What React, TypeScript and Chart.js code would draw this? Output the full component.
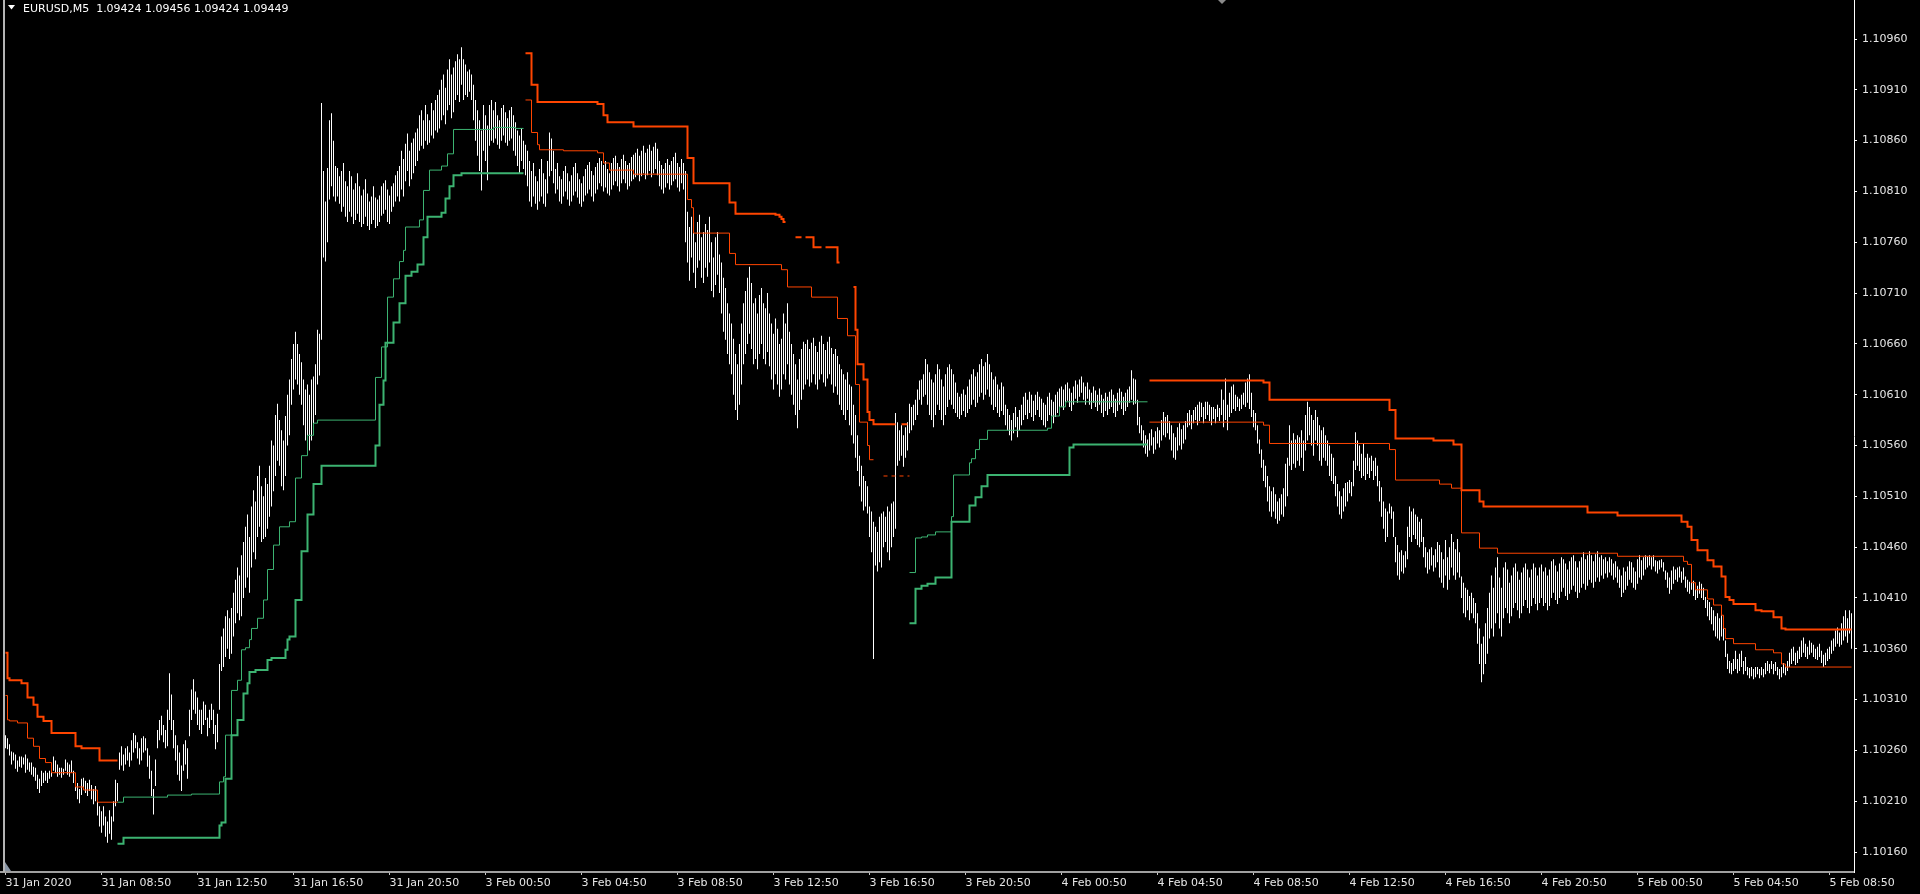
import React, { useEffect, useRef } from "react";
import { Chart, registerables } from "chart.js";

Chart.register(...registerables);

// ---- text ----
const headerText = "EURUSD,M5  1.09424 1.09456 1.09424 1.09449";
const timeLabels = [
  "31 Jan 2020", "31 Jan 08:50", "31 Jan 12:50", "31 Jan 16:50", "31 Jan 20:50",
  "3 Feb 00:50", "3 Feb 04:50", "3 Feb 08:50", "3 Feb 12:50", "3 Feb 16:50", "3 Feb 20:50",
  "4 Feb 00:50", "4 Feb 04:50", "4 Feb 08:50", "4 Feb 12:50", "4 Feb 16:50", "4 Feb 20:50",
  "5 Feb 00:50", "5 Feb 04:50", "5 Feb 08:50",
];
const timeTickBars = [0, 48, 96, 144, 192, 240, 288, 336, 384, 432, 480, 528, 576, 624, 672, 720, 768, 816, 864, 912];
const priceTicks = [
  1.1016, 1.1021, 1.1026, 1.1031, 1.1036, 1.1041, 1.1046, 1.1051, 1.1056,
  1.1061, 1.1066, 1.1071, 1.1076, 1.1081, 1.1086, 1.1091, 1.1096,
];
const priceMin = 1.1014032;
const priceMax = 1.1099838;

// ---- price bars (M5), [low, high] in points above 1.10000 ----
const BASE = 1.1;
const POINT = 0.00001;

const jan31 = [
  [262,275],[261,272],[255,266],[246,259],[250,258],[242,256],[239,250],[244,254],[243,254],[246,253],[238,256],[241,252],
  [239,248],[236,248],[234,244],[230,243],[222,236],[218,232],[225,240],[228,238],[230,240],[228,238],[232,240],[234,246],
  [240,254],[238,250],[234,246],[236,243],[233,243],[236,242],[240,251],[236,248],[234,246],[238,250],[228,240],[220,234],
  [212,228],[208,222],[216,232],[222,233],[218,230],[215,228],[220,231],[212,226],[207,222],[210,225],[196,215],[185,205],
  [179,200],[186,205],[175,195],[169,190],[178,201],[172,195],[190,210],[205,231],[210,228],[241,258],[245,264],[240,256],
  [246,262],[250,264],[244,258],[250,270],[258,277],[262,275],[252,268],[246,262],[250,272],[258,274],[260,272],[244,262],
  [232,255],[215,240],[197,222],[225,251],[262,280],[270,290],[275,294],[268,285],[262,280],[264,300],[290,336],[280,315],
  [262,290],[250,275],[236,265],[230,258],[220,245],[240,266],[246,270],[232,262],[274,300],[290,320],[300,330],[296,318],
  [285,312],[280,300],[276,300],[285,308],[290,305],[274,292],[282,300],[290,306],[276,300],[261,285],[268,296],[300,345],
  [338,372],[342,380],[352,392],[360,398],[350,390],[355,400],[372,415],[385,428],[395,440],[388,432],[392,452],[410,465],
  [420,480],[430,492],[415,470],[440,500],[455,516],[448,505],[470,530],[480,540],[465,520],[468,510],[470,528],[478,522],
  [490,540],[500,565],[515,560],[530,590],[545,601],[540,585],[520,575],[516,565],[530,589],[560,610],[570,625],[600,645],
  [615,660],[625,672],[620,660],[610,650],[600,642],[580,625],[565,615],[560,620],[555,610],[565,625],[575,628],[590,640],
  [620,674],[629,670],[664,897],[745,830],[741,800],[760,833],[802,880],[815,887],[805,860],[800,835],[805,833],[798,825],
  [790,830],[795,838],[785,820],[780,815],[790,830],[785,825],[778,812],[782,818],[788,828],[780,815],[775,806],[778,812],
  [785,822],[776,808],[772,800],[778,805],[782,815],[774,804],[776,802],[780,806],[786,815],[788,818],[792,821],[780,812],
  [778,806],[790,815],[795,818],[800,826],[805,830],[800,835],[812,850],[805,842],[820,857],[830,867],[815,850],[822,858],
  [828,862],[835,868],[840,872],[850,885],[855,890],[852,880],[860,895],[856,886],[858,880],[865,897],[862,890],[870,900],
  [868,905],[872,910],[880,920],[885,925],[876,912],[890,930],[895,940],[882,925],[888,932],[900,938],[905,945],[898,940],
  [915,952],[900,940],
];

const feb3 = [
  [905,935],[903,928],[908,930],[900,925],[880,915],[860,900],[845,890],[830,880],[811,870],[850,895],[840,885],[821,875],
  [855,895],[860,900],[858,890],[862,898],[856,885],[852,880],[860,892],[865,895],[858,888],[855,882],[860,890],[862,893],
  [850,885],[845,878],[835,870],[828,865],[840,872],[832,860],[826,856],[815,850],[800,840],[795,830],[805,838],[798,825],
  [792,820],[800,832],[805,842],[798,828],[795,822],[808,840],[825,868],[830,862],[818,850],[808,832],[812,838],[800,825],
  [798,822],[805,830],[810,835],[802,828],[796,820],[800,826],[806,834],[810,838],[804,828],[798,822],[795,818],[800,825],
  [806,832],[808,836],[812,839],[805,830],[800,826],[808,834],[812,838],[818,843],[815,840],[810,836],[814,840],[808,832],
  [806,828],[812,838],[816,843],[820,845],[815,838],[810,834],[818,842],[822,846],[818,840],[812,836],[815,838],[820,844],
  [822,846],[824,848],[826,852],[820,845],[825,850],[828,855],[822,848],[826,852],[830,856],[824,850],[828,854],[832,858],
  [826,852],[815,840],[812,836],[808,832],[814,838],[818,842],[812,836],[816,840],[820,844],[822,848],[814,838],[810,834],
  [818,842],[812,838],[760,830],[740,790],[722,775],[745,785],[730,770],[715,760],[735,780],[742,787],[725,765],[720,770],
  [735,778],[726,772],[740,785],[712,760],[706,745],[718,765],[728,770],[710,748],[690,740],[672,725],[664,715],[650,700],
  [640,690],[630,680],[610,665],[595,650],[585,640],[600,660],[620,680],[640,700],[650,712],[660,725],[670,736],[655,720],
  [640,700],[645,705],[635,690],[650,708],[660,715],[645,700],[640,695],[652,710],[638,690],[625,680],[615,670],[630,685],
  [620,675],[608,660],[615,665],[630,690],[625,680],[640,700],[620,672],[610,660],[600,650],[590,640],[577,625],[595,645],
  [605,655],[615,662],[620,660],[625,664],[618,655],[622,661],[630,666],[620,658],[615,652],[625,662],[630,668],[622,660],
  [618,654],[626,662],[630,667],[620,656],[612,650],[618,655],[610,648],[600,640],[595,635],[590,630],[585,625],[595,632],
  [580,620],[570,618],[562,600],[548,590],[535,570],[520,550],[505,540],[496,530],[500,525],[493,520],[470,500],[455,495],
  [350,485],[442,480],[436,475],[445,490],[440,493],[460,495],[465,490],[455,500],[447,495],[460,503],[470,505],[478,592],
  [540,583],[545,575],[550,580],[539,570],[548,578],[555,583],[572,601],[575,598],[580,600],[585,605],[590,615],[605,624],
  [600,625],[608,630],[610,645],[600,640],[590,632],[585,625],[578,622],[590,630],[600,640],[595,635],[585,625],[580,618],
  [590,630],[598,637],[605,640],[600,635],[596,630],[592,622],[588,612],[586,608],[590,611],[594,615],[588,610],[592,618],
  [596,625],[600,630],[605,635],[598,628],[602,632],[608,640],[612,645],[605,638],[610,642],[615,650],[608,640],[600,632],
  [595,625],[598,628],[592,620],[588,615],[594,622],[590,618],[580,600],[575,596],[570,590],[565,585],[572,592],[578,598],
  [568,588],[575,595],[580,600],[585,608],[590,612],[586,605],[592,613],[588,610],[584,604],[590,610],[595,613],[588,608],
];

const feb4 = [
  [585,606],[580,602],[578,600],[584,608],[590,612],[586,605],[582,603],[588,610],[592,613],[595,616],[598,618],[595,615],
  [600,620],[604,622],[598,616],[594,612],[600,618],[606,624],[602,620],[608,625],[612,628],[605,622],[600,618],[606,622],
  [600,615],[596,612],[602,618],[598,614],[594,610],[600,616],[592,610],[588,606],[594,612],[590,608],[596,613],[598,615],
  [592,610],[588,606],[594,612],[600,616],[596,613],[590,608],[594,612],[598,615],[602,618],[605,634],[600,626],[601,625],
  [580,605],[572,588],[565,580],[558,575],[552,570],[549,566],[555,572],[560,576],[552,568],[556,574],[562,578],[558,575],
  [565,585],[570,593],[568,588],[572,590],[566,584],[555,580],[548,572],[546,568],[555,578],[560,582],[556,576],[562,580],
  [566,584],[578,592],[580,595],[576,590],[582,595],[585,598],[580,600],[584,603],[588,602],[582,598],[586,603],[590,603],
  [584,600],[580,598],[586,598],[582,596],[588,600],[584,597],[590,615],[578,605],[585,626],[575,600],[588,612],[592,618],
  [596,620],[594,610],[598,608],[594,606],[596,610],[600,612],[598,622],[602,626],[596,630],[588,612],[578,595],[575,592],
  [562,580],[552,566],[538,556],[525,546],[519,540],[505,530],[495,520],[490,515],[495,519],[488,512],[483,505],[486,508],
  [492,512],[490,518],[500,542],[510,548],[540,580],[536,565],[542,572],[538,566],[545,570],[540,568],[548,575],[535,565],
  [555,590],[565,603],[570,598],[560,590],[550,585],[565,595],[560,588],[545,580],[540,575],[548,578],[545,570],[540,565],
  [530,560],[525,552],[522,548],[510,530],[500,522],[492,515],[488,510],[495,518],[500,523],[505,524],[513,526],[510,524],
  [520,545],[536,573],[540,565],[535,560],[528,552],[530,562],[526,548],[532,552],[528,548],[535,550],[526,545],[530,548],
  [520,540],[505,525],[490,519],[478,505],[465,498],[470,495],[493,503],[488,500],[470,495],[445,470],[432,462],[428,455],
  [436,457],[434,452],[440,456],[448,480],[470,500],[465,495],[472,498],[468,492],[462,490],[460,485],[465,488],[450,470],
  [440,460],[434,455],[438,458],[442,460],[436,452],[440,458],[445,465],[430,462],[425,455],[420,448],[432,467],[418,450],
  [428,460],[440,473],[432,465],[428,458],[435,468],[430,455],[410,431],[395,425],[391,420],[398,418],[388,412],[395,415],
  [390,410],[385,405],[365,395],[345,380],[327,365],[335,372],[345,385],[355,400],[370,415],[380,432],[372,420],[385,440],
  [395,450],[380,430],[372,420],[390,440],[400,445],[395,438],[385,425],[392,432],[400,440],[405,444],[398,436],[390,428],
  [395,435],[402,440],[408,444],[400,438],[395,430],[402,438],[410,444],[404,440],[398,432],[405,440],[410,443],[402,436],
  [405,440],[398,432],[402,438],[410,446],[415,448],[408,442],[404,436],[410,444],[416,450],[420,448],[412,444],[408,438],
  [414,446],[418,450],[422,452],[416,446],[410,440],[415,446],[420,450],[424,455],[418,448],[422,452],[428,456],[425,452],
  [420,446],[426,453],[430,456],[426,450],[432,452],[429,448],[434,450],[430,446],[435,450],[432,448],[428,444],[430,446],
];

const feb5 = [
  [425,441],[420,438],[411,432],[415,440],[418,436],[422,441],[428,446],[425,445],[420,440],[418,436],[424,448],[430,452],
  [428,447],[432,450],[438,452],[440,451],[442,452],[438,450],[441,452],[436,447],[434,446],[438,447],[440,448],[436,445],
  [428,437],[420,435],[414,430],[418,437],[424,441],[428,438],[426,440],[430,441],[425,436],[428,440],[420,431],[416,428],
  [414,426],[418,431],[412,427],[408,424],[410,422],[414,426],[410,424],[408,420],[400,411],[392,408],[388,406],[384,401],
  [378,398],[372,392],[370,395],[368,390],[372,393],[368,388],[352,368],[340,355],[336,348],[335,346],[338,350],[340,358],
  [336,350],[338,355],[342,358],[335,348],[338,352],[334,342],[331,341],[333,342],[330,340],[332,342],[335,342],[331,340],
  [334,342],[332,340],[335,346],[338,348],[336,345],[340,348],[335,345],[338,347],[334,342],[330,340],[332,342],[336,346],
  [334,344],[338,348],[342,356],[345,360],[348,362],[344,356],[346,358],[350,362],[352,368],[356,371],[352,365],[350,362],
  [354,368],[356,366],[352,364],[350,360],[349,362],[352,365],[346,358],[342,354],[344,356],[348,360],[350,362],[355,368],
  [358,370],[362,378],[365,381],[362,376],[364,385],[368,392],[372,398],[366,390],[375,398],[360,395],
];

// ---- indicator levels: [bar index, level in points] (null = not drawn) ----
const downOuter = [
  [0,356],[1,331],[2,329],[8,326],[11,312],[14,305],[16,293],[19,289],[23,277],[35,264],[38,262],[47,250],[56,250],[57,null],
  [260,946],[263,915],[266,898],[296,896],[299,885],[301,878],[314,874],[341,843],[344,818],[362,799],[365,788],[385,787],
  [387,785],[388,783],[389,780],[390,780],[391,null],
  [395,765],[398,765],[399,null],[400,765],[403,765],[404,755],[408,755],[409,null],[410,755],[415,755],[416,740],[417,740],[418,null],
  [424,716],[425,674],[426,640],[429,625],[431,593],[432,585],[434,581],[445,581],[446,null],[448,581],[451,581],[452,null],
  [572,624],[629,622],[632,605],[692,595],[695,567],[714,565],[724,561],[728,516],[737,505],[739,500],[791,494],[806,491],
  [838,485],[841,480],[843,467],[846,457],[851,447],[854,441],[858,431],[860,411],[862,408],[864,404],[875,398],[878,397],
  [884,391],[888,380],[890,379],[923,379],
];
const downInner = [
  [0,314],[1,290],[2,289],[6,287],[11,272],[14,264],[17,252],[20,248],[23,238],[35,224],[39,221],[46,209],[56,209],[57,null],
  [260,900],[263,868],[266,856],[267,851],[279,850],[296,848],[299,838],[302,831],[314,827],[341,802],[343,794],[344,769],
  [362,749],[365,738],[388,733],[391,716],[403,706],[416,685],[421,668],[425,620],[427,583],[431,560],[432,546],[434,546],[435,null],
  [439,530],[441,530],[442,null],[443,530],[445,530],[446,null],[447,530],[449,530],[450,null],[451,530],[452,530],[453,null],
  [572,583],[629,580],[632,562],[692,556],[695,526],[717,522],[723,518],[728,474],[737,459],[746,454],[806,451],[839,446],
  [841,443],[843,425],[845,418],[851,409],[854,403],[858,393],[859,380],[860,370],[864,365],[875,359],[884,356],[888,345],
  [890,342],[923,342],
];
const upOuter = [
  [56,168],[59,174],[107,186],[108,189],[110,232],[113,275],[116,290],[119,316],[121,326],[122,337],[125,339],[131,349],
  [133,351],[140,359],[141,369],[142,372],[145,408],[148,456],[151,492],[154,522],[158,540],[185,560],[187,600],[189,624],
  [190,661],[194,681],[197,700],[200,727],[203,731],[206,738],[209,765],[211,785],[218,789],[220,803],[222,815],[224,826],
  [228,828],[259,828],[260,null],
  [452,385],[455,419],[458,422],[461,424],[465,430],[473,485],[482,501],[485,509],[488,520],[491,531],[530,531],[532,558],
  [534,561],[571,561],[572,null],
];
const upInner = [
  [56,209],[59,214],[81,216],[93,217],[107,229],[109,234],[110,275],[113,319],[116,329],[118,359],[120,361],[122,369],
  [123,380],[126,390],[129,408],[131,438],[134,462],[137,480],[142,485],[145,528],[148,550],[151,570],[154,582],[156,585],
  [185,627],[188,657],[191,706],[194,724],[197,741],[199,752],[200,775],[207,782],[209,811],[212,831],[218,835],[221,847],
  [224,871],[244,873],[255,872],[259,872],[260,null],
  [452,435],[455,469],[458,470],[461,472],[465,475],[473,490],[474,531],[482,543],[483,547],[485,556],[487,566],[491,575],
  [521,577],[523,589],[527,598],[530,603],[571,603],[572,null],
];

const FONT = "DejaVu Sans";
const toPrice = (p: number) => BASE + p * POINT;

const stepLine = (steps: (number | null)[][], color: string, width: number, label: string) => ({
  type: "line" as const,
  label,
  data: steps.map(([x, v]) => ({ x: x as number, y: v === null ? null : toPrice(v as number) })),
  borderColor: color,
  backgroundColor: color,
  borderWidth: width,
  stepped: "before" as const,
  pointRadius: 0,
  pointHoverRadius: 0,
  spanGaps: false,
  fill: false,
  order: 0,
  borderCapStyle: "butt" as const,
  borderJoinStyle: "miter" as const,
});

const terminalChrome = {
  id: "terminalChrome",
  beforeDraw(chart: any) {
    const ctx = chart.ctx;
    ctx.save();
    ctx.fillStyle = "#000000";
    ctx.fillRect(0, 0, chart.width, chart.height);
    ctx.restore();
  },
  afterDraw(chart: any) {
    const ctx = chart.ctx;
    const area = chart.chartArea;
    ctx.save();
    // left frame line
    ctx.fillStyle = "#b4b4b4";
    ctx.fillRect(3, 0, 2, area.bottom);
    // bottom-left shift marker
    ctx.fillStyle = "#8a96a6";
    ctx.beginPath();
    ctx.moveTo(5, 862);
    ctx.lineTo(5, 871);
    ctx.lineTo(11, 871);
    ctx.closePath();
    ctx.fill();
    // top marker
    ctx.fillStyle = "#8a8a8a";
    ctx.beginPath();
    ctx.moveTo(1218, 0);
    ctx.lineTo(1226, 0);
    ctx.lineTo(1222, 4);
    ctx.closePath();
    ctx.fill();
    // header
    ctx.fillStyle = "#ffffff";
    ctx.beginPath();
    ctx.moveTo(8, 5);
    ctx.lineTo(15, 5);
    ctx.lineTo(11.5, 9.5);
    ctx.closePath();
    ctx.fill();
    ctx.font = `11px "${FONT}"`;
    ctx.textBaseline = "alphabetic";
    ctx.textAlign = "left";
    ctx.fillText(headerText, 23, 12);
    ctx.restore();
  },
};

export default function App() {
  const ref = useRef<HTMLCanvasElement>(null);

  useEffect(() => {
    const canvas = ref.current;
    if (!canvas) return;
    const bars = [...jan31, ...feb3, ...feb4, ...feb5];
    const barData = bars.map((b, i) => ({ x: i, y: [toPrice(b[0]), toPrice(b[1])] }));

    const chart = new Chart(canvas, {
      type: "bar",
      data: {
        datasets: [
          stepLine(downOuter, "#ff4500", 2, "down outer"),
          stepLine(downInner, "#ff4500", 1, "down inner"),
          stepLine(upOuter, "#3cb371", 2, "up outer"),
          stepLine(upInner, "#3cb371", 1, "up inner"),
          {
            type: "bar" as const,
            label: "EURUSD M5",
            data: barData as any,
            backgroundColor: "#ffffff",
            borderWidth: 0,
            barThickness: 1,
            inflateAmount: 0,
            grouped: false,
            order: 5,
          } as any,
        ],
      },
      options: {
        animation: false,
        responsive: false,
        devicePixelRatio: 1,
        events: [],
        layout: { padding: { left: 1, top: 0, right: 0, bottom: 0 } },
        plugins: {
          legend: { display: false },
          tooltip: { enabled: false },
          title: { display: false },
        },
        scales: {
          x: {
            type: "linear",
            min: -2.25,
            max: 924.25,
            offset: false,
            afterBuildTicks: (s: any) => {
              s.ticks = timeTickBars.map((v) => ({ value: v }));
            },
            afterFit: (s: any) => {
              s.height = 22;
              s.paddingLeft = 0;
              s.paddingRight = 0;
            },
            ticks: {
              autoSkip: false,
              maxRotation: 0,
              minRotation: 0,
              align: "start",
              padding: 2,
              color: "#e6e6e6",
              font: { family: FONT, size: 11 },
              callback: (_v: any, i: number) => timeLabels[i],
            },
            grid: {
              display: true,
              drawOnChartArea: false,
              drawTicks: true,
              tickLength: 3,
              offset: false,
              color: "#c8c8c8",
              tickColor: "#c8c8c8",
            },
            border: { display: true, color: "#a0a0a0", width: 2 },
          },
          y: {
            type: "linear",
            position: "right",
            min: priceMin,
            max: priceMax,
            beginAtZero: false,
            afterBuildTicks: (s: any) => {
              s.ticks = priceTicks.map((v) => ({ value: v }));
            },
            afterFit: (s: any) => {
              s.width = 66;
              s.paddingTop = 0;
              s.paddingBottom = 0;
            },
            ticks: {
              padding: 5,
              color: "#e6e6e6",
              font: { family: FONT, size: 11 },
              callback: (v: any) => Number(v).toFixed(5),
            },
            grid: {
              display: true,
              drawOnChartArea: false,
              drawTicks: true,
              tickLength: 3,
              color: "#ffffff",
              tickColor: "#ffffff",
            },
            border: { display: true, color: "#ffffff", width: 1 },
          },
        },
      } as any,
      plugins: [terminalChrome],
    });

    return () => chart.destroy();
  }, []);

  return (
    <div style={{ position: "fixed", left: 0, top: 0, width: 1920, height: 894, background: "#000000" }}>
      <canvas ref={ref} width={1920} height={894} style={{ display: "block", width: 1920, height: 894 }} />
    </div>
  );
}
